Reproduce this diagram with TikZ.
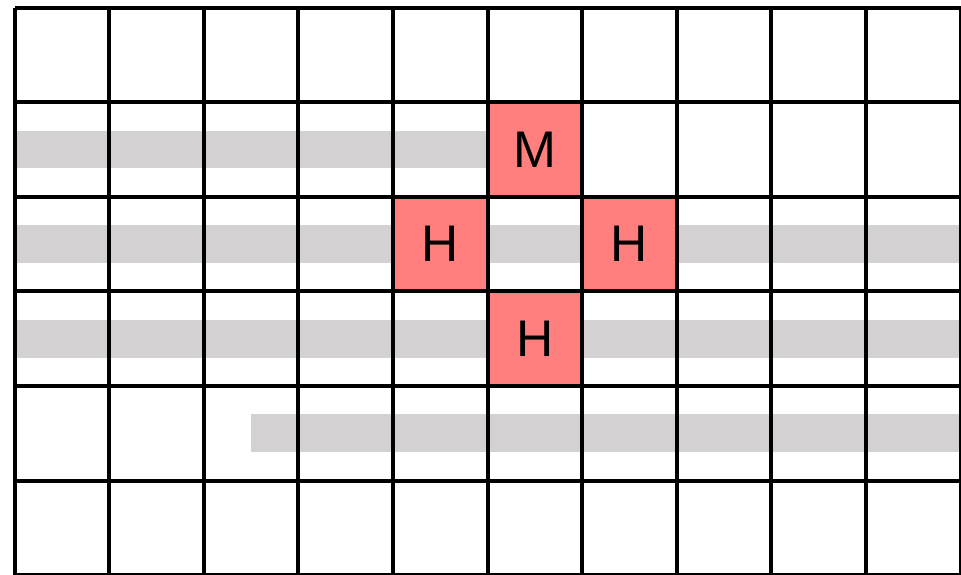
\documentclass[tikz,border=0pt]{standalone}
\usepackage{fontspec}
\setmainfont{Liberation Sans}
\definecolor{cellred}{HTML}{FF7F7F}
\definecolor{bandgray}{HTML}{D3D1D2}
\begin{document}
\begin{tikzpicture}[x=1cm,y=1cm,
  band/.style={fill=bandgray, draw=none},
  hit/.style={fill=cellred, draw=none, minimum size=1cm, inner sep=0pt, font=\fontsize{15.5}{18}\selectfont},
  gridline/.style={line width=1.2pt, black}]
\useasboundingbox (-0.155,0.013) rectangle (10.004,6.081);
\fill[white] (-0.155,0.013) rectangle (10.004,6.081);
% gray bands
\path[band] (0,4.3) rectangle (5,4.7);
\path[band] (0,3.3) rectangle (10,3.7);
\path[band] (0,2.3) rectangle (10,2.7);
\path[band] (2.5,1.3) rectangle (10,1.7);
% red cells
\node[hit] (m)  at (5.5,4.5) {M};
\node[hit] (h1) at (4.5,3.5) {H};
\node[hit] (h2) at (6.5,3.5) {H};
\node[hit] (h3) at (5.5,2.5) {H};
% grid
\draw[gridline] (0,0) grid (10,6);
\end{tikzpicture}
\end{document}
